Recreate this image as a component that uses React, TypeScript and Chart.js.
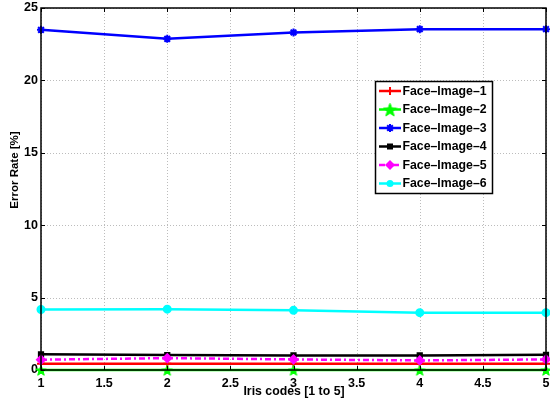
import React, { useEffect, useRef } from "react";
import { Chart, registerables } from "chart.js";

Chart.register(...registerables);

const xValues = [1, 2, 3, 4, 5];
const seriesNames = [
  "Face–Image–1",
  "Face–Image–2",
  "Face–Image–3",
  "Face–Image–4",
  "Face–Image–5",
  "Face–Image–6",
];
const face1 = [0.44, 0.44, 0.44, 0.44, 0.44];
const face2 = [0.0, 0.0, 0.0, 0.0, 0.0];
const face3 = [23.49, 22.87, 23.31, 23.54, 23.54];
const face4 = [1.08, 1.03, 1.01, 1.01, 1.05];
const face5 = [0.71, 0.82, 0.73, 0.66, 0.73];
const face6 = [4.18, 4.2, 4.12, 3.96, 3.96];
const xTicks = [1, 1.5, 2, 2.5, 3, 3.5, 4, 4.5, 5];
const yTicks = [0, 5, 10, 15, 20, 25];
const xTitle = "Iris codes [1 to 5]";
const yTitle = "Error Rate [%]";

const FONT = "'Liberation Sans', Arial, Helvetica, sans-serif";

function makeStar(size: number, color: string): HTMLCanvasElement {
  const c = document.createElement("canvas");
  c.width = size;
  c.height = size;
  const g = c.getContext("2d")!;
  const cx = size / 2;
  const cy = size / 2;
  const R = size / 2 - 0.5;
  const r = R * 0.42;
  g.beginPath();
  for (let i = 0; i < 10; i++) {
    const ang = -Math.PI / 2 + (i * Math.PI) / 5;
    const rad = i % 2 === 0 ? R : r;
    const px = cx + rad * Math.cos(ang);
    const py = cy + 0.8 + rad * Math.sin(ang);
    if (i === 0) g.moveTo(px, py);
    else g.lineTo(px, py);
  }
  g.closePath();
  g.fillStyle = color;
  g.fill();
  g.strokeStyle = color;
  g.lineWidth = 1;
  g.stroke();
  return c;
}

type Style = {
  color: string;
  point: any;
  radius: number;
  dash: number[];
  width: number;
  legendPoint?: any;
};

const AREA = { left: 41, right: 546, top: 8, bottom: 370 };

export default function App() {
  const ref = useRef<HTMLCanvasElement | null>(null);

  useEffect(() => {
    if (!ref.current) return;
    const starSmall = makeStar(12, "#00ff00");
    const starBig = makeStar(15, "#00ff00");
    const styles: Style[] = [
      { color: "#ff0000", point: "cross", radius: 4, dash: [], width: 2.5 },
      { color: "#00ff00", point: starSmall, radius: 6, dash: [], width: 2.5, legendPoint: starBig },
      { color: "#0000ff", point: "star", radius: 4, dash: [], width: 2.5 },
      { color: "#000000", point: "rect", radius: 3, dash: [], width: 2.5 },
      { color: "#ff00ff", point: "rectRot", radius: 4, dash: [6, 3, 2, 3], width: 2.5 },
      { color: "#00ffff", point: "circle", radius: 3.5, dash: [], width: 2.5 },
    ];
    const seriesData = [face1, face2, face3, face4, face5, face6];

    const datasets = seriesData.map((vals, i) => ({
      label: seriesNames[i],
      data: vals.map((v, j) => ({ x: xValues[j], y: v })),
      borderColor: styles[i].color,
      backgroundColor: styles[i].color,
      borderWidth: styles[i].width,
      borderDash: styles[i].dash,
      pointStyle: styles[i].point,
      pointRadius: styles[i].radius,
      pointBorderWidth: 2,
      pointBorderColor: styles[i].color,
      pointBackgroundColor: styles[i].color,
      tension: 0,
      clip: false,
      order: 6 - i,
    }));

    const areaPlugin = {
      id: "fixarea",
      afterLayout(chart: any) {
        const a = chart.chartArea;
        a.left = AREA.left;
        a.right = AREA.right;
        a.top = AREA.top;
        a.bottom = AREA.bottom;
        a.width = AREA.right - AREA.left;
        a.height = AREA.bottom - AREA.top;
        const x = chart.scales.x;
        x.left = AREA.left;
        x.right = AREA.right;
        x.width = AREA.right - AREA.left;
        x.top = AREA.bottom;
        x.bottom = 402;
        x.height = 402 - AREA.bottom;
        x.configure();
        const y = chart.scales.y;
        y.top = AREA.top;
        y.bottom = AREA.bottom;
        y.height = AREA.bottom - AREA.top;
        y.left = 0;
        y.right = AREA.left;
        y.width = AREA.left;
        y.configure();
      },
    };

    const gridPlugin = {
      id: "dotgrid",
      beforeDatasetsDraw(chart: any) {
        const { ctx, chartArea: a, scales } = chart;
        ctx.save();
        ctx.strokeStyle = "#bcbcbc";
        ctx.lineWidth = 1;
        ctx.setLineDash([1, 2]);
        xTicks.forEach((t) => {
          const px = Math.round(scales.x.getPixelForValue(t)) + 0.5;
          ctx.beginPath();
          ctx.moveTo(px, a.top);
          ctx.lineTo(px, a.bottom);
          ctx.stroke();
        });
        yTicks.forEach((t) => {
          const py = Math.round(scales.y.getPixelForValue(t)) + 0.5;
          ctx.beginPath();
          ctx.moveTo(a.left, py);
          ctx.lineTo(a.right, py);
          ctx.stroke();
        });
        ctx.restore();
      },
    };

    const framePlugin = {
      id: "frame",
      afterDraw(chart: any) {
        const { ctx, chartArea: a, scales } = chart;
        ctx.save();
        // axis titles
        ctx.fillStyle = "#000";
        ctx.textAlign = "center";
        ctx.textBaseline = "middle";
        ctx.font = "bold 12.3px " + FONT;
        ctx.fillText(xTitle, 294, 392);
        ctx.save();
        ctx.translate(15, 170);
        ctx.rotate(-Math.PI / 2);
        ctx.font = "bold 11.5px " + FONT;
        ctx.fillText(yTitle, 0, 0);
        ctx.restore();

        // inward ticks
        ctx.strokeStyle = "#000";
        ctx.lineWidth = 1;
        ctx.setLineDash([]);
        const tl = 4;
        xTicks.forEach((t) => {
          const px = Math.round(scales.x.getPixelForValue(t)) + 0.5;
          ctx.beginPath();
          ctx.moveTo(px, a.bottom);
          ctx.lineTo(px, a.bottom - tl);
          ctx.moveTo(px, a.top);
          ctx.lineTo(px, a.top + tl);
          ctx.stroke();
        });
        yTicks.forEach((t) => {
          const py = Math.round(scales.y.getPixelForValue(t)) + 0.5;
          ctx.beginPath();
          ctx.moveTo(a.left, py);
          ctx.lineTo(a.left + tl, py);
          ctx.moveTo(a.right, py);
          ctx.lineTo(a.right - tl, py);
          ctx.stroke();
        });
        // box
        ctx.lineWidth = 1.5;
        ctx.strokeRect(a.left, a.top, a.right - a.left, a.bottom - a.top);

        // legend
        const lx = 375.5;
        const ly = 81.5;
        const lw = 117;
        const lh = 112;
        ctx.fillStyle = "#fff";
        ctx.fillRect(lx, ly, lw, lh);
        ctx.strokeStyle = "#000";
        ctx.lineWidth = 1.5;
        ctx.strokeRect(lx, ly, lw, lh);
        ctx.font = "bold 12.3px " + FONT;
        ctx.textBaseline = "middle";
        ctx.textAlign = "left";
        styles.forEach((s, i) => {
          const y = 91 + i * 18.5;
          ctx.strokeStyle = s.color;
          ctx.lineWidth = s.width;
          ctx.setLineDash(s.dash);
          ctx.beginPath();
          ctx.moveTo(379, y);
          ctx.lineTo(401, y);
          ctx.stroke();
          ctx.setLineDash([]);
          const cx = 390;
          ctx.fillStyle = s.color;
          ctx.strokeStyle = s.color;
          ctx.lineWidth = 2;
          const r = s.radius;
          const p = s.legendPoint || s.point;
          if (typeof p !== "string") {
            ctx.drawImage(p, cx - p.width / 2, y - p.height / 2);
          } else if (p === "cross") {
            ctx.beginPath();
            ctx.moveTo(cx - r, y);
            ctx.lineTo(cx + r, y);
            ctx.moveTo(cx, y - r);
            ctx.lineTo(cx, y + r);
            ctx.stroke();
          } else if (p === "star") {
            ctx.beginPath();
            ctx.moveTo(cx - r, y);
            ctx.lineTo(cx + r, y);
            ctx.moveTo(cx, y - r);
            ctx.lineTo(cx, y + r);
            const d = r * 0.707;
            ctx.moveTo(cx - d, y - d);
            ctx.lineTo(cx + d, y + d);
            ctx.moveTo(cx - d, y + d);
            ctx.lineTo(cx + d, y - d);
            ctx.stroke();
          } else if (p === "rect") {
            ctx.fillRect(cx - r, y - r, 2 * r, 2 * r);
          } else if (p === "rectRot") {
            ctx.beginPath();
            ctx.moveTo(cx, y - r - 1);
            ctx.lineTo(cx + r + 1, y);
            ctx.lineTo(cx, y + r + 1);
            ctx.lineTo(cx - r - 1, y);
            ctx.closePath();
            ctx.fill();
          } else if (p === "circle") {
            ctx.beginPath();
            ctx.arc(cx, y, r, 0, Math.PI * 2);
            ctx.fill();
          }
          ctx.fillStyle = "#000";
          ctx.fillText(seriesNames[i], 402.5, y + 0.5);
        });
        ctx.restore();
      },
    };

    const chart = new Chart(ref.current, {
      type: "line",
      data: { datasets: datasets as any },
      options: {
        animation: false,
        responsive: false,
        devicePixelRatio: 1,
        layout: { padding: { top: 8, right: 4, left: 0, bottom: 0 } },
        plugins: { legend: { display: false }, tooltip: { enabled: false } },
        scales: {
          x: {
            type: "linear",
            min: 1,
            max: 5,
            afterBuildTicks: (scale: any) => {
              scale.ticks = xTicks.map((v) => ({ value: v }));
            },
            afterFit: (scale: any) => {
              scale.height = 32;
              scale.paddingLeft = 0;
              scale.paddingRight = 0;
            },
            ticks: {
              color: "#000",
              font: { family: FONT, size: 12.5, weight: "bold" },
              padding: 6,
              maxRotation: 0,
              autoSkip: false,
              callback: (v: any) => String(v),
            },
            grid: { display: false, drawTicks: false },
            border: { display: false },
            title: { display: false },
          },
          y: {
            type: "linear",
            min: 0,
            max: 25,
            afterBuildTicks: (scale: any) => {
              scale.ticks = yTicks.map((v) => ({ value: v }));
            },
            afterFit: (scale: any) => {
              scale.width = 41;
              scale.paddingTop = 0;
              scale.paddingBottom = 0;
            },
            ticks: {
              color: "#000",
              font: { family: FONT, size: 12.5, weight: "bold" },
              padding: 3,
              autoSkip: false,
              callback: (v: any) => String(v),
            },
            grid: { display: false, drawTicks: false },
            border: { display: false },
            title: { display: false },
          },
        },
      },
      plugins: [areaPlugin, gridPlugin, framePlugin],
    });
    return () => chart.destroy();
  }, []);

  return (
    <div style={{ position: "absolute", left: 0, top: 0, width: 550, height: 402, background: "#fff", overflow: "hidden" }}>
      <canvas ref={ref} width={550} height={402} style={{ display: "block", width: 550, height: 402 }} />
    </div>
  );
}
